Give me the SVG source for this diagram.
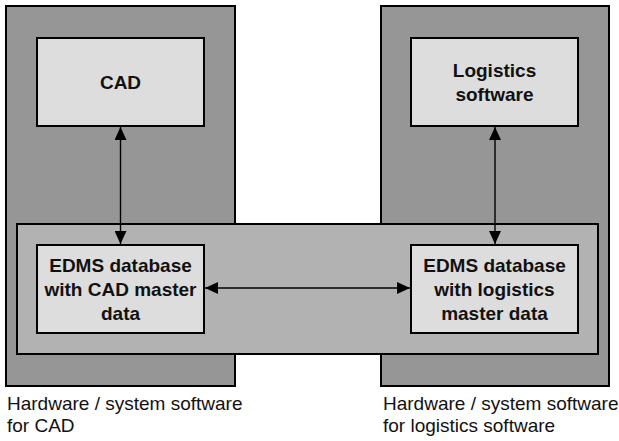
<svg xmlns="http://www.w3.org/2000/svg" width="619" height="441" viewBox="0 0 619 441">
<defs>
<style>
.outer{fill:#969696;stroke:#000;stroke-width:2}
.mid{fill:#b2b2b2;stroke:#000;stroke-width:2}
.inner{fill:#dddddd;stroke:#000;stroke-width:2}
.b{font-family:"Liberation Sans",Arial,sans-serif;font-weight:bold;font-size:19px;fill:#111;text-anchor:middle}
.r{font-family:"Liberation Sans",Arial,sans-serif;font-size:19px;fill:#111}
.c{stroke:#000;stroke-width:1.4;fill:none}
</style>
<marker id="ah" markerWidth="13" markerHeight="12" refX="13" refY="6" orient="auto-start-reverse" markerUnits="userSpaceOnUse">
<path d="M0,0 L13,6 L0,12 Z" fill="#000"/>
</marker>
</defs>
<g id="hw-cad">
<rect class="outer" x="6" y="6" width="229" height="380"/>
<text class="r" x="7" y="410">Hardware / system software</text>
<text class="r" x="7" y="432">for CAD</text>
</g>
<g id="hw-log">
<rect class="outer" x="381" y="6" width="228" height="380"/>
<text class="r" x="383" y="410">Hardware / system software</text>
<text class="r" x="383" y="432">for logistics software</text>
</g>
<g id="edms-layer">
<rect class="mid" x="17" y="224" width="581" height="130"/>
</g>
<g id="cad">
<rect class="inner" x="37" y="38" width="167" height="88"/>
<text class="b" x="120.5" y="89">CAD</text>
</g>
<g id="logistics">
<rect class="inner" x="411" y="38" width="167" height="88"/>
<text class="b" x="494.5" y="77">Logistics</text>
<text class="b" x="494.5" y="101">software</text>
</g>
<g id="edms-cad">
<rect class="inner" x="37" y="245" width="167" height="88"/>
<text class="b" x="120.5" y="272">EDMS database</text>
<text class="b" x="120.5" y="296">with CAD master</text>
<text class="b" x="120.5" y="320">data</text>
</g>
<g id="edms-log">
<rect class="inner" x="411" y="245" width="167" height="88"/>
<text class="b" x="494.5" y="272">EDMS database</text>
<text class="b" x="494.5" y="296">with logistics</text>
<text class="b" x="494.5" y="320">master data</text>
</g>
<g id="connectors">
<line class="c" x1="120.5" y1="127" x2="120.5" y2="244" marker-start="url(#ah)" marker-end="url(#ah)"/>
<line class="c" x1="495" y1="127" x2="495" y2="244" marker-start="url(#ah)" marker-end="url(#ah)"/>
<line class="c" x1="205" y1="288" x2="410" y2="288" marker-start="url(#ah)" marker-end="url(#ah)"/>
</g>
</svg>
